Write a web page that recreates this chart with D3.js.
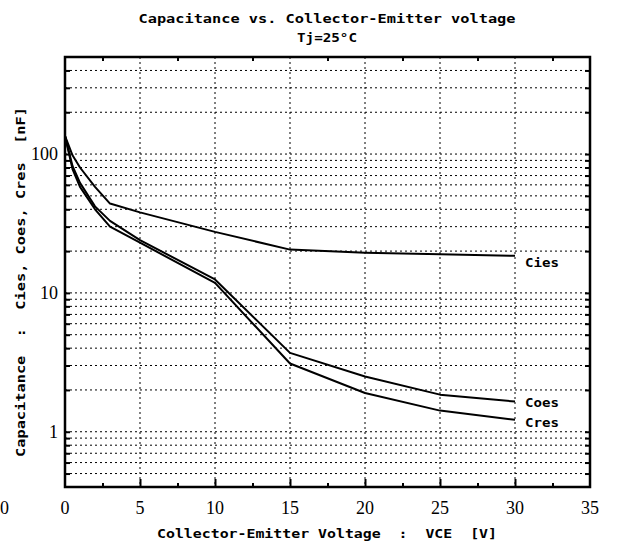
<!DOCTYPE html>
<html>
<head>
<meta charset="utf-8">
<script src="https://cdn.jsdelivr.net/npm/d3@7"></script>
<style>
    body { margin: 0; background: #fff; }
    svg { display: block; }
</style>
</head>
<body>
<script>
//capacitance curves, values (nF)
var voltage = [0, 0.5, 1, 2, 3, 5, 10, 15, 20, 25, 30];
var cies = [135, 98, 80, 58, 44, 38, 27.5, 20.5, 19.5, 19, 18.5];
var coes = [135, 82, 62, 42, 33, 24, 12.5, 3.7, 2.5, 1.85, 1.65];
var cres = [135, 78, 58, 40, 30, 23, 11.8, 3.1, 1.9, 1.42, 1.22];
var seriesNames = ["Cies", "Coes", "Cres"];

//tick values
var xTickLabels = [0, 5, 10, 15, 20, 25, 30, 35];
var xGrid = [5, 10, 15, 20, 25, 30];
var xMinor = [2.5, 7.5, 12.5, 17.5, 22.5, 27.5, 32.5];
var yTickLabels = [1, 10, 100];
var yGrid = [0.5, 0.6, 0.7, 0.8, 0.9,
    1, 2, 3, 4, 5, 6, 7, 8, 9,
    10, 20, 30, 40, 50, 60, 70, 80, 90,
    100, 200, 300, 400];

window.onload = function() {

    var w = 620, h = 546;
    var left = 65, right = 590, top = 57, bottom = 487;
    var gothic = "'DejaVu Sans Mono', 'Liberation Mono', monospace";
    var serif = "'Liberation Serif', 'DejaVu Serif', serif";

    var svg = d3.select("body")
        .append("svg")
        .attr("width", w)
        .attr("height", h);

    var x = d3.scaleLinear().domain([0, 35]).range([left, right]);
    var y = d3.scaleLog().domain([0.4, 500]).range([bottom, top]);

    //dotted grid
    svg.append("g").selectAll("line")
        .data(yGrid)
        .enter()
        .append("line")
        .attr("x1", left).attr("x2", right)
        .attr("y1", function(d) { return y(d); })
        .attr("y2", function(d) { return y(d); })
        .attr("stroke", "#000")
        .attr("stroke-width", 1)
        .attr("stroke-dasharray", "2,3");

    svg.append("g").selectAll("line")
        .data(xGrid)
        .enter()
        .append("line")
        .attr("x1", function(d) { return x(d); })
        .attr("x2", function(d) { return x(d); })
        .attr("y1", top).attr("y2", bottom)
        .attr("stroke", "#000")
        .attr("stroke-width", 1)
        .attr("stroke-dasharray", "2,3");

    //inward ticks on all four sides
    var tickStyle = function(g) {
        g.select(".domain").remove();
        g.selectAll(".tick line").attr("stroke", "#000").attr("stroke-width", 2);
        g.selectAll(".tick text").remove();
    };
    svg.append("g")
        .attr("transform", "translate(" + left + ",0)")
        .call(d3.axisRight(y).tickValues(yGrid).tickSize(5))
        .call(tickStyle);
    svg.append("g")
        .attr("transform", "translate(" + right + ",0)")
        .call(d3.axisLeft(y).tickValues(yGrid).tickSize(5))
        .call(tickStyle);
    svg.append("g")
        .attr("transform", "translate(0," + bottom + ")")
        .call(d3.axisTop(x).tickValues(xGrid).tickSize(8))
        .call(tickStyle);
    svg.append("g")
        .attr("transform", "translate(0," + bottom + ")")
        .call(d3.axisTop(x).tickValues(xMinor).tickSize(4))
        .call(tickStyle);
    svg.append("g")
        .attr("transform", "translate(0," + top + ")")
        .call(d3.axisBottom(x).tickValues(xMinor).tickSize(4))
        .call(tickStyle);

    //curves
    var line = d3.line()
        .x(function(d) { return x(d[0]); })
        .y(function(d) { return y(d[1]); });

    var series = [cies, coes, cres];
    var labelDy = [11, 5, 7];

    series.forEach(function(vals, i) {
        var pts = voltage.map(function(v, j) { return [v, vals[j]]; });
        svg.append("path")
            .datum(pts)
            .attr("d", line)
            .attr("fill", "none")
            .attr("stroke", "#000")
            .attr("stroke-width", 2)
            .attr("stroke-linejoin", "round");

        svg.append("text")
            .attr("x", x(voltage[voltage.length - 1]) + 10)
            .attr("y", y(vals[vals.length - 1]) + labelDy[i])
            .attr("textLength", 34)
            .attr("lengthAdjust", "spacingAndGlyphs")
            .style("font-family", gothic)
            .style("font-weight", "bold")
            .style("font-size", "12px")
            .text(seriesNames[i]);
    });

    //frame
    svg.append("rect")
        .attr("x", left).attr("y", top)
        .attr("width", right - left).attr("height", bottom - top)
        .attr("fill", "none")
        .attr("stroke", "#000")
        .attr("stroke-width", 2.5);

    //tick labels
    svg.append("g").selectAll("text")
        .data(xTickLabels)
        .enter()
        .append("text")
        .attr("x", function(d) { return x(d); })
        .attr("y", bottom + 27)
        .attr("text-anchor", "middle")
        .style("font-family", serif)
        .style("font-size", "18px")
        .text(function(d) { return d; });

    svg.append("g").selectAll("text")
        .data(yTickLabels)
        .enter()
        .append("text")
        .attr("x", left - 7)
        .attr("y", function(d) { return y(d) + 6; })
        .attr("text-anchor", "end")
        .style("font-family", serif)
        .style("font-size", "18px")
        .text(function(d) { return d; });

    //stray label at the far left edge
    svg.append("text")
        .attr("x", 0)
        .attr("y", bottom + 27)
        .style("font-family", serif)
        .style("font-size", "18px")
        .text("0");

    //titles
    svg.append("text")
        .attr("x", 327).attr("y", 23)
        .attr("text-anchor", "middle")
        .attr("textLength", 377)
        .attr("lengthAdjust", "spacingAndGlyphs")
        .style("font-family", gothic)
        .style("font-weight", "bold")
        .style("font-size", "13px")
        .text("Capacitance vs. Collector-Emitter voltage");

    svg.append("text")
        .attr("x", 327).attr("y", 42)
        .attr("text-anchor", "middle")
        .attr("textLength", 60)
        .attr("lengthAdjust", "spacingAndGlyphs")
        .style("font-family", gothic)
        .style("font-weight", "bold")
        .style("font-size", "13px")
        .text("Tj=25°C");

    svg.append("text")
        .attr("x", 327).attr("y", 538)
        .attr("text-anchor", "middle")
        .attr("textLength", 340)
        .attr("lengthAdjust", "spacingAndGlyphs")
        .style("font-family", gothic)
        .style("font-weight", "bold")
        .style("font-size", "12px")
        .style("white-space", "pre")
        .text("Collector-Emitter Voltage  :  VCE  [V]");

    svg.append("text")
        .attr("transform", "translate(25,282) rotate(-90)")
        .attr("text-anchor", "middle")
        .attr("textLength", 350)
        .attr("lengthAdjust", "spacingAndGlyphs")
        .style("font-family", gothic)
        .style("font-weight", "bold")
        .style("font-size", "12px")
        .style("white-space", "pre")
        .text("Capacitance  :  Cies, Coes, Cres  [nF]");
};
</script>
</body>
</html>
